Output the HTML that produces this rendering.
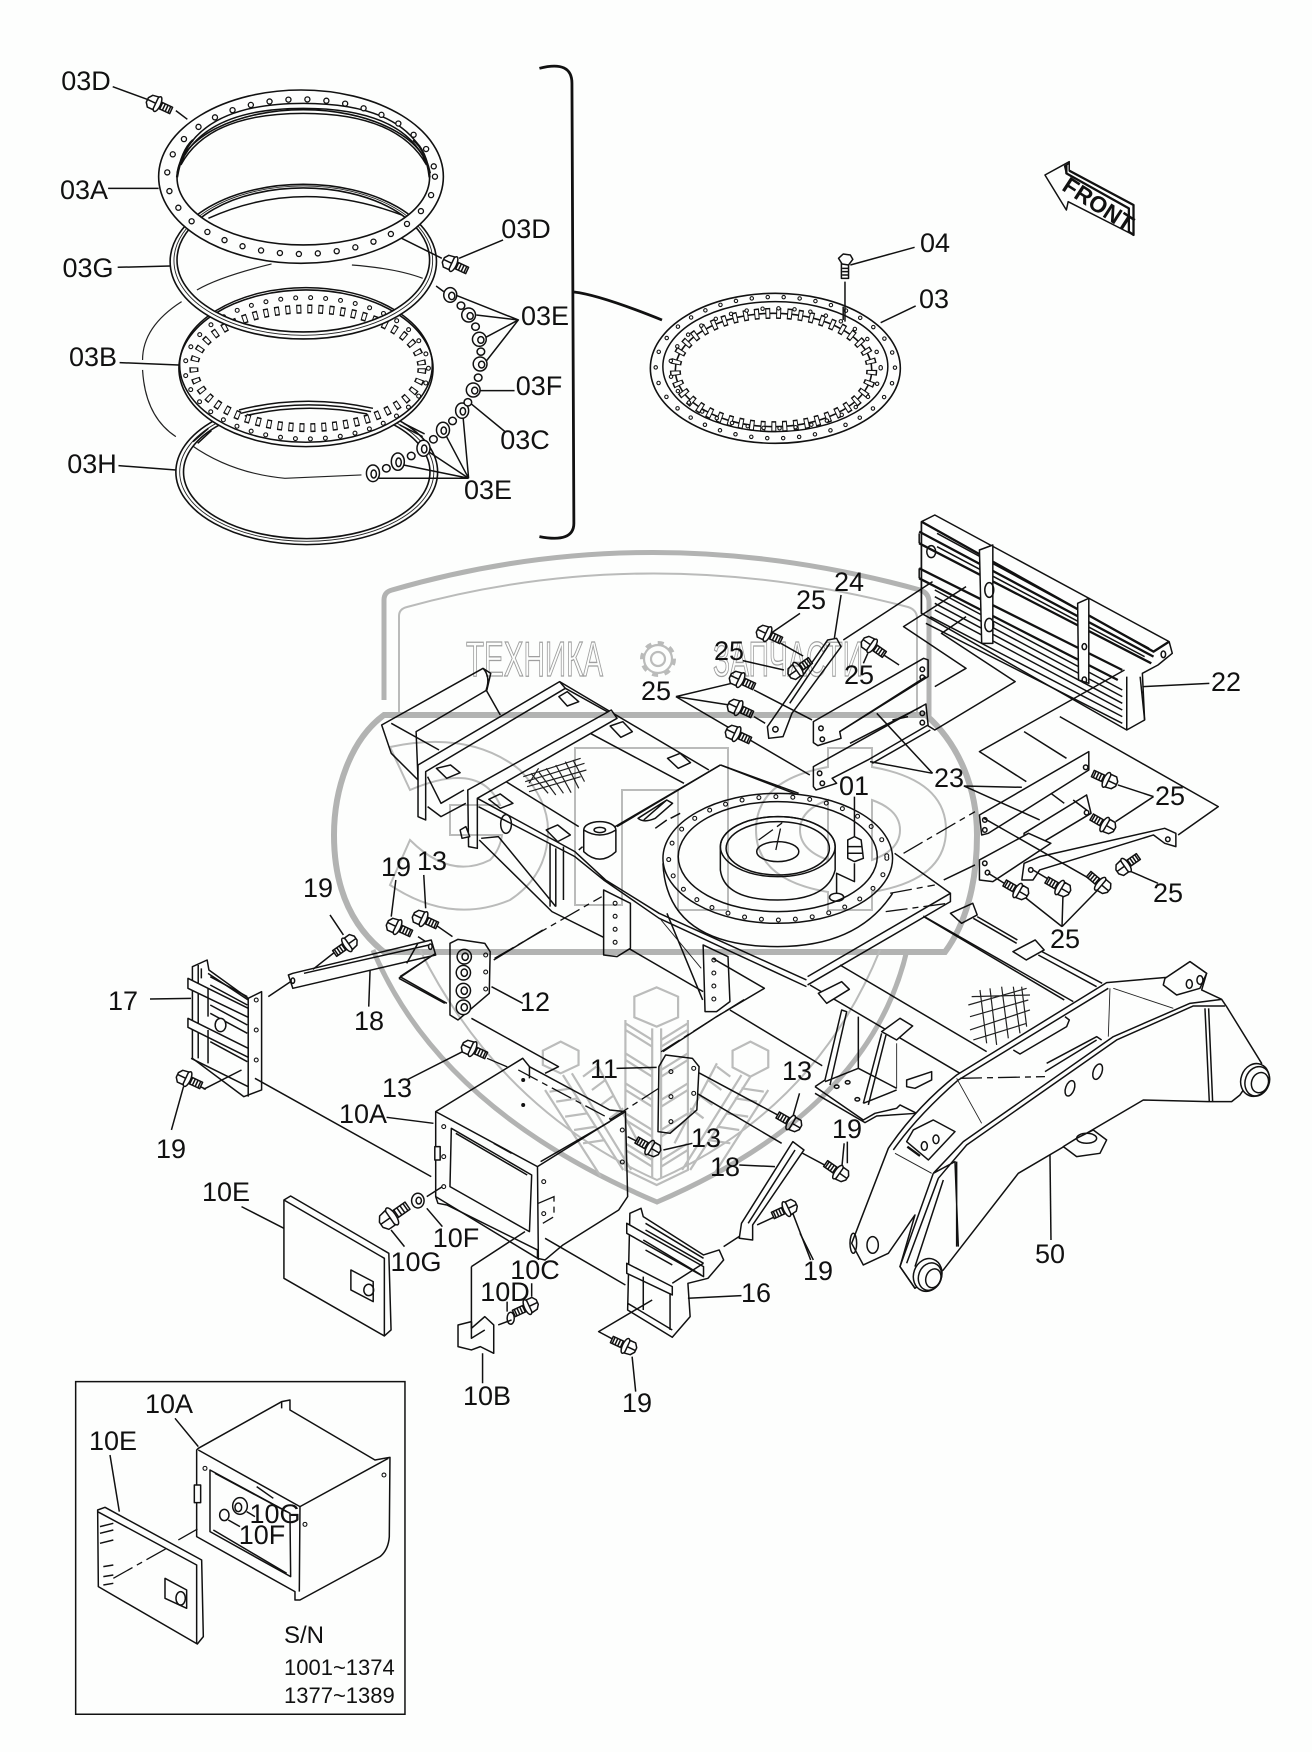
<!DOCTYPE html>
<html><head><meta charset="utf-8"><style>
html,body{margin:0;padding:0;background:#fdfefd}
svg{display:block}
svg *{vector-effect:non-scaling-stroke}
.l{fill:none;stroke:#111;stroke-width:1.5;stroke-linejoin:round}
.n{fill:none;stroke:#222;stroke-width:.9}
.k{fill:none;stroke:#111;stroke-width:2.3;stroke-linejoin:round}
.w{fill:#fdfefd;stroke:#111;stroke-width:1.5;stroke-linejoin:round}
.a{fill:#fdfefd;fill-rule:evenodd;stroke:#111;stroke-width:1.6}
.d{fill:none;stroke:#111;stroke-width:1.3;stroke-dasharray:22 5 6 5}
.h{fill:none;stroke:#111;stroke-width:6.4;stroke-linecap:round;stroke-dasharray:0 17}
.hw{fill:none;stroke:#fdfefd;stroke-width:3.8;stroke-linecap:round;stroke-dasharray:0 17}
.t{fill:none;stroke:#111;stroke-width:9;stroke-dasharray:5 6}
.tw{fill:none;stroke:#fdfefd;stroke-width:6;stroke-dasharray:3 8;stroke-dashoffset:-1}
.wm{fill:none;stroke:#b4b4b4;stroke-width:5}
.wn{fill:none;stroke:#bcbcbc;stroke-width:2}
.wf{fill:none;stroke:#bdbdbd;stroke-width:2.2}
text{font-family:"Liberation Sans",sans-serif;fill:#111;stroke:none}
.lb text{font-size:27px;text-anchor:middle}
</style></head><body>
<svg width="1312" height="1752" viewBox="0 0 1312 1752" xmlns="http://www.w3.org/2000/svg">
<defs>
<g id="bolt"><rect x="5" y="-3.5" width="15" height="7" class="w"/><path class="l" d="M9-3.5V3.5M12-3.5V3.5M15-3.5V3.5M18-3.5V3.5"/><ellipse cx="5" rx="3" ry="8" class="w"/><path class="w" d="M3-7-3-6-6-2-6 3-3 7 3 7 3-7Z"/><path class="l" d="M-6 0H3"/></g>
</defs>
<rect width="1312" height="1752" fill="#fdfefd"/>

<!-- rings exploded -->
<g transform="translate(40,40) scale(.3827,.3333)">
<path class="l" d="M1305 85Q1390 60 1390 130L1395 1450Q1395 1510 1305 1490" style="stroke-width:2.8"/>
<path class="n" style="stroke-width:1.2" d="M605 672Q470 710 410 750M370 785Q268 860 268 960M268 990Q275 1130 355 1190M395 1215Q500 1300 640 1315L840 1305M815 675Q930 685 1000 715"/>
<!-- 03H -->
<path class="a" d="M355 1296a342 218 0 1 0 684 0a342 218 0 1 0 -684 0ZM375 1296a322 200 0 1 0 644 0a322 200 0 1 0 -644 0Z"/>
<ellipse class="n" cx="697" cy="1296" rx="332" ry="208"/>
<!-- 03B -->
<ellipse class="a" cx="695" cy="985" rx="332" ry="235"/>
<ellipse class="l" cx="695" cy="975" rx="330" ry="232"/>
<path class="l" d="M520 1110Q690 1060 870 1105M525 1120Q690 1072 865 1115M535 1128Q690 1085 855 1122"/>
<path class="l" d="M400 1205 440 1165M412 1210 448 1172M940 1155 1000 1190M950 1150 1005 1182"/>
<ellipse class="t" cx="700" cy="985" rx="298" ry="178"/><ellipse class="tw" cx="700" cy="985" rx="298" ry="178"/>
<ellipse class="h" cx="697" cy="985" rx="318" ry="212" style="stroke-dasharray:0 15;stroke-width:5"/><ellipse class="hw" cx="697" cy="985" rx="318" ry="212" style="stroke-dasharray:0 15;stroke-width:2.8"/>
<!-- 03G -->
<path class="a" d="M340 665a348 232 0 1 0 696 0a348 232 0 1 0 -696 0ZM358 660a330 216 0 1 0 660 0a330 216 0 1 0 -660 0Z"/>
<ellipse class="n" cx="688" cy="662" rx="338" ry="224"/>
<path class="l" d="M440 535Q680 410 945 525"/>
<!-- 03A -->
<path class="a" d="M310 410a372 260 0 1 0 744 0a372 260 0 1 0 -744 0ZM358 412a330 203 0 1 0 660 0a330 203 0 1 0 -660 0Z"/>
<path class="l" d="M358 400Q400 190 688 190Q980 190 1020 400M362 385Q420 205 688 205Q960 205 1015 385M368 375Q440 220 688 220Q935 220 1010 375"/>
<path class="k" d="M358 412Q370 330 400 300M1018 412Q1010 330 975 300"/>
<ellipse class="h" cx="682" cy="410" rx="350" ry="232" style="stroke-dasharray:0 19"/><ellipse class="hw" cx="682" cy="410" rx="350" ry="232" style="stroke-dasharray:0 19"/>
<!-- leaders -->
<path class="l" d="M190 140 280 178M355 212 385 238M178 445H310M203 682 340 678M208 968 362 975M205 1277 355 1290M1210 600 1095 655M945 595 1050 655M1035 738 1055 755"/>
<path class="l" d="M1085 765 1250 840 1140 825M1250 840 1160 895M1250 840 1165 965M1240 1052H1150M1215 1175 1125 1090M1120 1315 1105 1125M1120 1315 1060 1185M1120 1315 1015 1235M1120 1315 950 1275M1120 1315H885"/>
<g class="w">
<ellipse cx="1072" cy="765" rx="17" ry="22"/><ellipse cx="1120" cy="825" rx="18" ry="21"/><ellipse cx="1148" cy="898" rx="18" ry="21"/><ellipse cx="1150" cy="972" rx="18" ry="21"/><ellipse cx="1132" cy="1050" rx="18" ry="21"/><ellipse cx="1103" cy="1112" rx="17" ry="23"/><ellipse cx="1053" cy="1170" rx="17" ry="23"/><ellipse cx="1002" cy="1225" rx="17" ry="24"/><ellipse cx="935" cy="1265" rx="17" ry="26"/><ellipse cx="870" cy="1300" rx="17" ry="25"/>
<ellipse cx="1100" cy="797" rx="10" ry="11"/><ellipse cx="1138" cy="860" rx="10" ry="11"/><ellipse cx="1152" cy="935" rx="10" ry="11"/><ellipse cx="1145" cy="1013" rx="10" ry="11"/><ellipse cx="1118" cy="1087" rx="10" ry="11"/><ellipse cx="1078" cy="1143" rx="10" ry="11"/><ellipse cx="1028" cy="1198" rx="10" ry="11"/><ellipse cx="970" cy="1248" rx="10" ry="11"/><ellipse cx="905" cy="1285" rx="10" ry="11"/>
</g>
<g class="l"><ellipse cx="1076" cy="768" rx="8" ry="11"/><ellipse cx="1124" cy="828" rx="8" ry="10"/><ellipse cx="1152" cy="900" rx="8" ry="10"/><ellipse cx="1154" cy="974" rx="8" ry="10"/><ellipse cx="1136" cy="1052" rx="8" ry="10"/><ellipse cx="1105" cy="1114" rx="7" ry="11"/><ellipse cx="1055" cy="1172" rx="7" ry="11"/><ellipse cx="1004" cy="1227" rx="7" ry="12"/><ellipse cx="937" cy="1267" rx="7" ry="13"/><ellipse cx="872" cy="1302" rx="7" ry="12"/></g>
</g>

<!-- assembled ring -->
<g transform="translate(620,140) scale(.3571,.3333)">
<path class="a" d="M85 685a350 225 0 1 0 700 0a350 225 0 1 0 -700 0ZM155 690a275 170 0 1 0 550 0a275 170 0 1 0 -550 0Z"/>
<ellipse class="l" cx="435" cy="680" rx="315" ry="195"/>
<ellipse class="t" cx="430" cy="690" rx="275" ry="170" style="stroke-width:11"/><ellipse class="tw" cx="430" cy="690" rx="275" ry="170" style="stroke-width:8"/>
<ellipse class="h" cx="435" cy="683" rx="335" ry="212" style="stroke-width:4.5;stroke-dasharray:0 16"/><ellipse class="hw" cx="435" cy="683" rx="335" ry="212" style="stroke-width:2.4;stroke-dasharray:0 16"/>
<ellipse class="h" cx="435" cy="685" rx="295" ry="180" style="stroke-width:4.5;stroke-dasharray:0 16"/><ellipse class="hw" cx="435" cy="685" rx="295" ry="180" style="stroke-width:2.4;stroke-dasharray:0 16"/>
<path class="l" d="M630 425V545M645 375 825 322M730 548 828 498"/>
<path class="w" d="M620 370V415H640V370Z"/><path class="w" d="M612 355 625 342 645 345 652 358 640 375 622 372Z"/>
<path class="l" d="M622 385H640M622 395H640M622 405H640"/>
<path class="k" d="M625 500V540" style="stroke-width:1.5"/>
<path class="w" d="M1190 105 1258 65 1258 92 1438 195 1438 285 1255 185 1250 210Z"/>
<path class="k" d="M1258 92 1438 195V285L1425 275V205L1250 100V75"/>
<path class="l" d="M1258 70 1245 78 1250 100"/>
</g>
<text transform="translate(1094,211) rotate(33)" text-anchor="middle" font-size="23" font-weight="bold" style="font-family:'Liberation Sans',sans-serif">FRONT</text>
<path class="k" d="M574 292Q600 295 662 320" style="stroke-width:2.8"/>

<!-- main frame left -->
<g transform="translate(330,640) scale(.3827,.3333)">
<path class="w" d="M135 255 400 85 420 100 410 150 225 275 230 420 160 340Z"/>
<path class="l" d="M160 250 285 330M400 85Q420 110 408 150L445 225"/>
<path class="w" d="M230 375 600 125 615 145 250 395 250 540 230 530Z"/>
<path class="l" d="M600 125 990 390M615 145 740 225M680 280 925 430M255 500 290 530 355 490M255 410 290 490 350 450"/>
<path class="w" d="M360 450 735 210 750 235 385 475 385 625 362 620Z"/>
<path class="l" d="M385 475 640 635 720 720 860 820 1245 1020M460 425 650 560M388 500 640 650 715 720 860 835 1245 1040"/>
<path class="w" d="M340 570 355 560 365 590 345 595Z"/><ellipse class="l" cx="460" cy="552" rx="14" ry="28"/>
<path class="l" d="M390 600 580 815 720 895M395 595 440 590 590 800M780 925 975 1055M1045 1110 1290 1280M575 610V800M610 620V780M590 625V800"/>
<path class="l" d="M1020 375 745 560M1020 375 1235 470M650 630 660 620M820 540 880 480 895 490 850 535Q820 550 805 535L880 480M850 565 880 540M890 535 915 520"/>
<!-- pads -->
<g class="w"><path d="M278 385 315 375 340 398 305 415Z"/><path d="M598 170 620 155 650 185 620 198Z"/><path d="M732 258 765 245 790 275 760 292Z"/><path d="M882 355 915 340 942 368 910 385Z"/><path d="M415 478 445 462 478 490 445 505Z"/><path d="M565 570 595 555 628 585 595 605Z"/></g>
<!-- mesh -->
<path class="n" d="M505 410 655 355M510 425 665 370M515 440 670 390M520 455 655 410M545 395 590 465M565 385 610 460M590 375 630 458M615 365 650 445M635 360 665 425M525 400 570 460M545 385 520 430" style="stroke-width:1.2"/>
<!-- bearing -->
<ellipse class="w" cx="1170" cy="655" rx="300" ry="195"/>
<path class="l" d="M870 670Q880 920 1170 920Q1380 920 1470 760"/>
<ellipse class="h" cx="1170" cy="655" rx="285" ry="185" style="stroke-dasharray:0 17;stroke-width:5"/><ellipse class="hw" cx="1170" cy="655" rx="285" ry="185" style="stroke-dasharray:0 17;stroke-width:2.8"/>
<ellipse class="l" cx="1170" cy="650" rx="260" ry="165"/>
<path class="w" d="M1020 620a150 90 0 0 1 300 0V690Q1300 780 1170 780Q1030 780 1020 690Z"/>
<ellipse class="l" cx="1170" cy="620" rx="150" ry="90"/><ellipse class="l" cx="1170" cy="625" rx="135" ry="80"/><ellipse class="l" cx="1170" cy="635" rx="55" ry="30"/>
<path class="d" d="M1165 630 1180 550 1120 600"/>
<!-- plates -->
<path class="w" d="M715 750V945L750 950 785 925V790Z"/>
<path class="h" d="M745 790V935" style="stroke-width:5;stroke-dasharray:0 13"/><path class="hw" d="M745 790V935" style="stroke-width:2.8;stroke-dasharray:0 13"/>
<path class="w" d="M975 915 980 1115H1010L1045 1085 1040 950Z"/>
<path class="h" d="M1003 960V1100" style="stroke-width:5;stroke-dasharray:0 13"/><path class="hw" d="M1003 960V1100" style="stroke-width:2.8;stroke-dasharray:0 13"/>
<path class="d" d="M430 955 710 770"/>
<path class="l" d="M1000 955 1135 1045 1010 1130M1010 1130 870 1235M180 1015 275 940M180 1015 300 1090"/>
<path class="n" d="M865 840 970 985"/>
<ellipse class="w" cx="705" cy="570" rx="42" ry="25"/>
<path class="w" d="M663 570V635Q705 680 747 635V570Q705 600 663 570Z"/><ellipse class="l" cx="705" cy="570" rx="15" ry="8"/>
<path class="l" d="M750 560 1020 375"/>
<path class="l" d="M245 705 250 805M172 720 160 830M0 825 35 885M270 850 320 890M230 890 250 905"/>
</g>

<!-- main right -->
<g transform="translate(600,500) scale(.4464,.3333)">
<!-- 22 -->
<path class="w" d="M720 65 750 45 1275 425 1282 460 1250 495 1215 520 1220 660 1180 690 720 340Z"/>
<path class="k" d="M720 65 1240 455 1275 425M715 95 1240 470M715 130 1235 490M715 205 1170 510M715 235 1160 540"/>
<path class="l" d="M755 100 1230 445M755 140 1220 470M750 270 1170 570M750 290 1170 590M750 310 1170 610M750 330 1170 630M740 350 1170 650M730 370 1170 670M1180 530V690M1210 530 1220 660M720 65V340"/>
<path class="w" d="M850 150 880 135V430L855 430Z"/><path class="w" d="M1070 310 1095 295V550L1072 540Z"/><path class="l" d="M715 100V130M715 205V235"/>
<ellipse class="l" cx="872" cy="270" rx="10" ry="22"/><ellipse class="l" cx="872" cy="375" rx="10" ry="20"/><ellipse class="l" cx="742" cy="155" rx="10" ry="18"/><ellipse class="l" cx="1262" cy="463" rx="5" ry="10"/><ellipse class="l" cx="1085" cy="440" rx="5" ry="9"/><ellipse class="l" cx="1085" cy="540" rx="5" ry="9"/>
<path class="l" d="M1365 550 1215 560"/>
<path class="l" d="M745 245 545 420M820 260 680 380 820 505 750 560M820 350 765 400 930 545 750 690 720 665M1175 510 850 755 955 845M950 695 1045 775M1030 650 1385 920 1295 1005"/>
<!-- 24 -->
<path class="w" d="M375 680 510 420 530 415 540 440 430 640 410 710 378 715Z"/><path class="l" d="M425 610 515 430"/>
<ellipse class="l" cx="393" cy="688" rx="6" ry="8"/>
<!-- 23 -->
<path class="w" d="M478 665 725 475 735 480 735 530 537 695 540 715 488 737 478 728Z"/><path class="w" d="M478 800 730 612 735 675 600 780 520 835 530 850 484 870 478 860Z"/>
<path class="l" d="M537 695 730 530M560 730 720 620M655 660 690 650M610 790 740 690"/>
<path class="w" d="M850 945 1095 755 1095 810 870 1000 855 1005Z"/><path class="w" d="M950 1000 1090 885 1100 940 950 1060Z"/><path class="w" d="M850 1080 960 1000 1010 1030 880 1145 850 1140Z"/>
<g class="l"><ellipse cx="495" cy="685" rx="5" ry="7"/><ellipse cx="498" cy="718" rx="5" ry="7"/><ellipse cx="492" cy="820" rx="5" ry="7"/><ellipse cx="498" cy="850" rx="5" ry="7"/><ellipse cx="722" cy="508" rx="5" ry="7"/><ellipse cx="722" cy="532" rx="5" ry="7"/><ellipse cx="722" cy="640" rx="5" ry="7"/><ellipse cx="722" cy="668" rx="5" ry="7"/><ellipse cx="862" cy="960" rx="5" ry="7"/><ellipse cx="862" cy="990" rx="5" ry="7"/><ellipse cx="862" cy="1090" rx="5" ry="7"/><ellipse cx="868" cy="1118" rx="5" ry="7"/><ellipse cx="1088" cy="802" rx="5" ry="7"/><ellipse cx="1090" cy="938" rx="5" ry="7"/></g>
<path class="w" d="M945 1140 950 1090 985 1070 1265 985 1290 1000 1290 1040 1265 1030 1240 1005 985 1110 970 1140Z"/>
<ellipse class="l" cx="965" cy="1110" rx="5" ry="7"/><ellipse class="l" cx="1272" cy="1018" rx="5" ry="7"/>
<path class="l" d="M170 590 295 550M170 590 290 615M170 590 470 825M345 570 475 660M345 650 370 670M448 340 385 398M405 430 455 468M320 482 412 510M540 285 525 415M600 460 590 490M630 460 670 495M745 820 605 785M745 820 620 640M815 858 945 862M815 858 985 960M1240 890 1160 855M1240 890 1155 965M1250 1150 1190 1115M1035 1280 950 1190M1035 1280 1037 1190M1035 1280 1115 1170M860 955 1115 1150M870 1120 935 1175M970 1110 1020 1150M1010 880 1040 910M1060 900 1090 930"/>
<!-- 01 -->
<path class="l" d="M570 890V1010M570 1090V1145L530 1120V1180"/>
<path class="w" d="M555 1020 570 1010 585 1020 590 1075 570 1085 555 1075Z"/><path class="l" d="M555 1040H588M555 1060H590"/>
<ellipse class="l" cx="530" cy="1192" rx="16" ry="12"/>
<path class="d" d="M680 1060 840 935M650 1180 750 1155M640 1235 780 1210"/>
<path class="l" d="M660 1060 785 1180 465 1430M770 1140 840 1095M785 1180V1205L465 1455M725 1250 1040 1500M845 1250 935 1320M990 1355 1125 1450"/>
<path class="w" d="M785 1240 835 1210 845 1245 810 1270Z"/><path class="w" d="M925 1355 975 1320 995 1350 955 1380Z"/>
<path class="l" d="M150 1240 230 1500M270 795 445 880"/>
</g>

<!-- boom -->
<g transform="translate(800,900) scale(.3333)">
<!-- deck -->
<path class="l" d="M370 48 820 305M520 55 650 130M715 165 890 260M120 195 560 455M30 255 480 520"/>
<path class="n" style="stroke-width:1.2" d="M505 315 680 265M510 350 685 300M510 390 690 330M520 420 680 370M540 270 560 430M570 265 590 435M605 260 625 415M640 260 660 400M665 260 680 380M515 290 690 285"/>
<path d="M45 560 125 330 290 425 350 640 300 615 290 625 225 640 190 660Z" fill="#fdfefd"/>
<path class="l" d="M45 560 75 540 125 330 140 335 90 555M45 560 190 660 225 640 290 625 300 615 350 640M45 580 195 668 230 648 350 640M190 610 245 400M205 615 258 405M190 610 290 570M175 505 290 565M75 545 175 505M175 505V350"/>
<path class="n" d="M290 430V565"/>
<g class="l"><ellipse cx="110" cy="560" rx="7" ry="5"/><ellipse cx="143" cy="547" rx="7" ry="5"/><ellipse cx="172" cy="598" rx="7" ry="5"/></g>
<path class="w" d="M320 540 395 515 395 540 345 565 320 560Z"/>
<path class="w" d="M55 280 125 245 148 268 80 310Z"/><path class="w" d="M245 395 300 355 338 378 290 420Z"/>
<!-- boom body -->
<path class="w" d="M265 745Q350 620 470 525L920 248 1100 232 1170 185 1220 220 1205 270 1265 298 1280 320 1385 490 1320 585 1295 605H1225L1030 600 655 820 430 1110 345 1165 300 1100 345 945 265 1060 190 1095 155 1030Z"/>
<path class="l" d="M280 750Q350 650 475 540L925 265M400 820 490 725 940 410 1170 310 1265 298M415 835 500 735 950 420 1180 318 1275 318M400 820 465 785 475 1040M1215 325 1228 605M1226 325 1238 605M400 820 300 1100 345 1165M415 835 320 1090M430 840 345 1100M470 785V1040"/>
<path class="n" d="M285 760 395 820M470 535 545 670M930 265 925 410M940 265 1120 325"/>
<path class="d" d="M480 535 735 530"/>
<path class="l" d="M640 450 660 462 800 380 808 360 795 350M740 490 890 410 905 420M735 515 890 420"/>
<ellipse class="l" cx="810" cy="565" rx="13" ry="24" transform="rotate(20 810 565)"/><ellipse class="l" cx="893" cy="515" rx="13" ry="24" transform="rotate(20 893 515)"/>
<path class="w" d="M790 740 830 770 900 760 920 720 880 690 830 715Z"/><ellipse class="l" cx="860" cy="715" rx="30" ry="15"/>
<path class="l" d="M750 765 753 1020"/>
<path class="w" d="M320 725 340 690 400 660 465 695 385 780Z"/><ellipse class="l" cx="373" cy="738" rx="9" ry="13"/><ellipse class="l" cx="408" cy="718" rx="9" ry="13"/><path class="k" d="M322 740 360 768"/>
<path class="w" d="M1095 235 1170 185 1220 220 1200 265 1130 285 1090 255Z"/><ellipse class="l" cx="1168" cy="252" rx="9" ry="13"/><ellipse class="l" cx="1200" cy="240" rx="9" ry="13"/>
<ellipse class="l" cx="218" cy="1035" rx="17" ry="25"/><ellipse class="l" cx="160" cy="1030" rx="10" ry="30"/>
<ellipse class="w" cx="1365" cy="540" rx="42" ry="50" transform="rotate(20 1365 540)"/><ellipse class="l" cx="1380" cy="548" rx="25" ry="31" transform="rotate(20 1380 548)"/><ellipse class="l" cx="1372" cy="544" rx="36" ry="45" transform="rotate(20 1372 544)"/>
<ellipse class="w" cx="383" cy="1125" rx="42" ry="50" transform="rotate(20 383 1125)"/><ellipse class="l" cx="400" cy="1135" rx="22" ry="29" transform="rotate(20 400 1135)"/><ellipse class="l" cx="390" cy="1130" rx="34" ry="42" transform="rotate(20 390 1130)"/>
<path class="l" d="M0 1000 40 1080M142 725V790"/>
</g>

<!-- lower left -->
<g transform="translate(150,930) scale(.4464,.3333)">
<!-- 17 -->
<path class="w" d="M95 110 128 90 132 120 220 205 250 185V480L210 500 95 385Z"/>
<path class="l" d="M108 105V385M135 140 218 200M135 165 218 225M135 225 218 285M135 250 218 310M135 310 218 370M135 335 218 395"/>
<path class="w" d="M85 145 220 235V262L85 175Z"/><path class="w" d="M85 265 220 355V382L85 292Z"/>
<path class="l" d="M92 385 220 470M115 115V145M130 130 220 210M130 175V260M130 300V400M220 205V500"/>
<path class="h" d="M238 210V450" style="stroke-width:5;stroke-dasharray:0 30"/><path class="hw" d="M238 210V450" style="stroke-width:2.8;stroke-dasharray:0 30"/>
<ellipse class="w" cx="158" cy="285" rx="12" ry="20"/>
<path class="l" d="M0 207 92 205M120 478 205 420M235 445 630 740M265 200 315 155M125 478 105 465M75 470 48 600"/>
<!-- 18 -->
<path class="w" d="M310 135 320 130 630 30 640 75 320 175Z"/><path class="l" d="M345 130 625 45M493 120 490 230M575 100 600 40M365 118 420 60M560 140 640 70M560 140 665 220"/>
<ellipse class="l" cx="320" cy="152" rx="4" ry="8"/><ellipse class="l" cx="628" cy="50" rx="4" ry="8"/>
<!-- 12 -->
<path class="w" d="M672 40 690 28 750 40 762 65 760 190 690 270 672 255Z"/>
<g class="w"><ellipse cx="704" cy="80" rx="16" ry="22"/><ellipse cx="702" cy="128" rx="16" ry="22"/><ellipse cx="702" cy="182" rx="16" ry="22"/><ellipse cx="702" cy="232" rx="16" ry="22"/></g>
<g class="l"><ellipse cx="706" cy="80" rx="7" ry="11"/><ellipse cx="704" cy="128" rx="7" ry="11"/><ellipse cx="704" cy="182" rx="7" ry="11"/><ellipse cx="704" cy="232" rx="7" ry="11"/></g>
<path class="h" d="M752 75V210" style="stroke-width:5;stroke-dasharray:0 17"/><path class="hw" d="M752 75V210" style="stroke-width:2.8;stroke-dasharray:0 17"/>
<path class="l" d="M770 90 880 0M765 170 835 220M720 265 915 410 885 430M575 450 700 365"/>
<path class="d" d="M755 385 870 450"/>
<!-- box -->
<path class="w" d="M640 545 835 385 850 410 1030 540 1065 545 1070 800 1050 840 925 945 885 990 868 985V960L665 825 645 820 640 800Z"/>
<path class="l" d="M640 545 868 710 1065 545M868 710 870 990M850 410V445M640 800 868 985"/>
<path class="l" d="M675 595 855 735 850 905 672 770Z"/><path class="l" d="M685 610 845 735M770 640 810 670"/>
<path class="w" d="M638 650H650V690H638Z"/>
<path class="h" d="M658 590V775" style="stroke-width:5;stroke-dasharray:0 30"/><path class="hw" d="M658 590V775" style="stroke-width:2.8;stroke-dasharray:0 30"/>
<path class="h" d="M882 755V930" style="stroke-width:5;stroke-dasharray:0 32"/><path class="hw" d="M882 755V930" style="stroke-width:2.8;stroke-dasharray:0 32"/>
<path class="h" d="M1058 600V760" style="stroke-width:5;stroke-dasharray:0 32"/><path class="hw" d="M1058 600V760" style="stroke-width:2.8;stroke-dasharray:0 32"/>
<path class="h" d="M836 450V600" style="stroke-width:4;stroke-dasharray:0 25"/>
<path class="d" d="M870 820 905 800V860L880 880"/>
<path class="l" d="M530 562 635 580M1045 415 1135 412M1320 705 1400 710M1285 950 1325 915M1360 885 1400 860M1225 425 1420 565M1225 490 1415 640M1455 665 1525 715"/>
<path class="d" d="M825 420 1035 570M1030 570 1180 440M1145 365 1335 205"/>
<path class="l" d="M875 695 1030 575M1070 620 1100 640"/>
<!-- 11 -->
<path class="w" d="M1140 410 1155 375 1215 385 1230 410 1225 540 1165 610 1138 605Z"/>
<path class="h" d="M1218 415V555" style="stroke-width:5;stroke-dasharray:0 25"/><path class="hw" d="M1218 415V555" style="stroke-width:2.8;stroke-dasharray:0 25"/>
<path class="h" d="M1167 425V580" style="stroke-width:5;stroke-dasharray:0 25"/><path class="hw" d="M1167 425V580" style="stroke-width:2.8;stroke-dasharray:0 25"/>
<!-- 18 r -->
<path class="w" d="M1325 880 1440 635 1465 660 1350 885 1350 930 1320 925Z"/>
<path class="l" d="M1340 880 1445 660"/>
<!-- cover -->
<path class="w" d="M300 810 315 798 535 970 540 1200 525 1218 300 1045Z"/>
<path class="l" d="M300 810 525 985V1218"/>
<path class="l" d="M450 1020 500 1055V1115L450 1080Z"/><ellipse class="l" cx="490" cy="1080" rx="11" ry="17"/>
<path class="l" d="M205 830 300 895M620 835 655 890M620 800 655 770M540 900 570 950M885 925 1065 1065M720 1010 840 905M720 1010V1220M745 1270V1360M810 1170 780 1185M800 1115V1145M855 1060V1100"/>
<ellipse class="w" cx="600" cy="812" rx="14" ry="22"/><ellipse class="l" cx="602" cy="812" rx="6" ry="10"/>
<!-- 10B -->
<path class="w" d="M720 1195 750 1160 770 1185 770 1270 740 1250 720 1260 690 1250 690 1185 720 1175Z"/><path class="l" d="M720 1175V1225L750 1200"/>
<ellipse class="l" cx="808" cy="1165" rx="8" ry="18"/>
<!-- 16 -->
<path class="w" d="M1075 850 1100 835 1105 860 1240 975 1275 960 1285 990 1250 1045 1205 1060 1210 1160 1170 1222 1070 1140Z"/>
<path class="l" d="M1110 900 1240 1000M1110 960 1170 1005"/>
<path class="w" d="M1068 880 1240 1010V1040L1068 910Z"/><path class="w" d="M1068 1000 1170 1070V1095L1068 1030Z"/>
<path class="l" d="M1110 880 1240 985M1105 930 1235 1035M1105 1040V1140M1165 1090V1200M1070 1120 1170 1200M1240 1000 1170 1060M1205 1105 1325 1097"/>
<path class="l" d="M1125 1110 1005 1205 1040 1230M1080 1280 1088 1385M1440 850 1480 990M1555 640 1550 710M1150 660 1215 640M1440 560 1455 490"/>
</g>

<!-- inset -->
<g transform="translate(60,1370) scale(.3333)">
<rect x="47" y="35" width="988" height="998" fill="none" stroke="#111" style="stroke-width:1.5"/>
<path class="w" d="M415 235 665 95 690 90 690 120 945 270 990 262 988 500Q985 540 960 560L720 690H705V665L410 500V240Z"/>
<path class="l" d="M415 240 720 410 985 265M720 410 718 665M665 95V115M450 300 690 430 692 620 450 485Z"/>
<path class="l" d="M465 310 680 425M590 350 640 385M460 480 680 610"/>
<path class="w" d="M403 345H422V398H403Z"/>
<path class="h" d="M435 295V465" style="stroke-width:5;stroke-dasharray:0 57"/><path class="hw" d="M435 295V465" style="stroke-width:2.8;stroke-dasharray:0 57"/>
<path class="h" d="M972 315V465" style="stroke-width:5;stroke-dasharray:0 50"/><path class="hw" d="M972 315V465" style="stroke-width:2.8;stroke-dasharray:0 50"/>
<path class="h" d="M735 463V630" style="stroke-width:5;stroke-dasharray:0 84"/><path class="hw" d="M735 463V630" style="stroke-width:2.8;stroke-dasharray:0 84"/>
<path class="w" d="M113 420 135 412 425 570 430 800 412 822 115 650Z"/>
<path class="l" d="M113 425 410 585V820"/>
<path class="l" d="M315 625 380 660V715L315 685Z"/><ellipse class="l" cx="362" cy="685" rx="14" ry="20"/>
<path class="l" d="M120 470 160 460M120 490 160 480M120 520 160 510M130 590 160 585M130 620 160 615M130 645 160 640"/>
<path class="d" d="M160 625 320 535M355 510 425 470"/>
<path class="l" d="M345 145 415 230M150 255 178 425"/>
<ellipse class="w" cx="540" cy="408" rx="22" ry="25"/><ellipse class="l" cx="535" cy="412" rx="10" ry="13"/><path class="l" d="M560 425 585 440"/>
<ellipse class="l" cx="493" cy="435" rx="14" ry="17"/><path class="l" d="M505 450 540 470"/>
</g>

<!-- bolts -->
<g>
<use href="#bolt" transform="translate(153,102) rotate(25)"/>
<use href="#bolt" transform="translate(449,262) rotate(25)"/>
<use href="#bolt" transform="translate(763,632) rotate(25)"/>
<use href="#bolt" transform="translate(794,672) rotate(-35)"/>
<use href="#bolt" transform="translate(736,678) rotate(25)"/>
<use href="#bolt" transform="translate(734,706) rotate(25)"/>
<use href="#bolt" transform="translate(732,732) rotate(25)"/>
<use href="#bolt" transform="translate(868,643) rotate(35)"/>
<use href="#bolt" transform="translate(1111,782) rotate(205)"/>
<use href="#bolt" transform="translate(1109,827) rotate(210)"/>
<use href="#bolt" transform="translate(1122,868) rotate(-35)"/>
<use href="#bolt" transform="translate(1064,890) rotate(210)"/>
<use href="#bolt" transform="translate(1104,887) rotate(220)"/>
<use href="#bolt" transform="translate(1022,893) rotate(210)"/>
<use href="#bolt" transform="translate(393,925) rotate(25)"/>
<use href="#bolt" transform="translate(419,917) rotate(25)"/>
<use href="#bolt" transform="translate(351,942) rotate(145)"/>
<use href="#bolt" transform="translate(468,1047) rotate(25)"/>
<use href="#bolt" transform="translate(183,1077) rotate(25)"/>
<use href="#bolt" transform="translate(654,1150) rotate(210)"/>
<use href="#bolt" transform="translate(795,1125) rotate(210)"/>
<use href="#bolt" transform="translate(842,1175) rotate(215)"/>
<use href="#bolt" transform="translate(791,1207) rotate(155)"/>
<use href="#bolt" transform="translate(387,1220) rotate(-35) scale(1.25)"/>
<use href="#bolt" transform="translate(532,1305) rotate(155)"/>
<use href="#bolt" transform="translate(630,1348) rotate(205)"/>
</g>

<!-- labels -->
<g class="lb">
<text x="86" y="90">03D</text><text x="84" y="199">03A</text><text x="88" y="277">03G</text><text x="93" y="366">03B</text><text x="92" y="473">03H</text><text x="526" y="238">03D</text><text x="545" y="325">03E</text><text x="539" y="395">03F</text><text x="525" y="449">03C</text><text x="488" y="499">03E</text>
<text x="935" y="252">04</text><text x="934" y="308">03</text><text x="1226" y="691">22</text><text x="849" y="591">24</text><text x="811" y="609">25</text><text x="729" y="660">25</text><text x="859" y="684">25</text><text x="656" y="700">25</text><text x="949" y="787">23</text><text x="854" y="795">01</text><text x="1170" y="805">25</text><text x="1168" y="902">25</text><text x="1065" y="948">25</text>
<text x="396" y="876">19</text><text x="432" y="870">13</text><text x="369" y="1030">18</text><text x="535" y="1011">12</text><text x="318" y="897">19</text><text x="123" y="1010">17</text><text x="171" y="1158">19</text><text x="397" y="1097">13</text><text x="604" y="1078">11</text><text x="797" y="1080">13</text><text x="706" y="1147">13</text><text x="847" y="1138">19</text><text x="725" y="1176">18</text><text x="363" y="1123">10A</text><text x="226" y="1201">10E</text><text x="416" y="1271">10G</text><text x="456" y="1247">10F</text><text x="535" y="1279">10C</text><text x="505" y="1301">10D</text><text x="487" y="1405">10B</text><text x="756" y="1302">16</text><text x="818" y="1280">19</text><text x="637" y="1412">19</text><text x="1050" y="1263">50</text>
<text x="169" y="1413">10A</text><text x="113" y="1450">10E</text><text x="275" y="1523">10G</text><text x="262" y="1544">10F</text>
</g>
<text x="284" y="1643" font-size="24">S/N</text>
<text x="284" y="1675" font-size="22">1001~1374</text>
<text x="284" y="1703" font-size="22">1377~1389</text>

<!-- watermark -->
<g style="mix-blend-mode:multiply">
<path class="wm" d="M384 700V600Q384 592 392 590Q650 515 920 590Q929 593 929 602V716"/>
<path class="wn" d="M399 715V616Q399 609 407 607Q650 540 908 607Q917 610 917 618V716"/>
<path class="wm" d="M384 715H926C960 745 977 790 977 835C977 885 965 925 945 952H384C350 925 334 885 334 835C334 790 350 740 384 715Z" style="stroke-width:6"/>
<path class="wn" d="M420 950Q500 1110 657 1180Q815 1110 880 950"/>
<path class="wm" d="M373 950Q440 1110 657 1202Q870 1110 907 950"/>
<path class="wn" d="M390 747Q470 730 520 770Q548 800 548 830Q548 875 510 900Q450 925 390 885L410 840Q450 880 490 860Q500 850 502 835H450V805H500Q480 760 410 790Z"/>
<path class="wn" d="M575 748H728V910H678V790H622V905H575Z"/>
<path class="wn" d="M828 748H872V767Q946 780 946 830Q946 880 872 892V910H828V892Q756 880 756 830Q756 780 828 767Z"/>
<path class="wn" d="M828 800Q800 810 800 830Q800 850 828 860ZM872 800Q900 810 900 830Q900 850 872 860Z"/>
<g transform="translate(150,930) scale(.4464,.3333)">
<path class="wf" d="M1135 172 1183 200V262L1135 290 1085 262V200Z"/>
<path class="wf" d="M920 335 960 362V405L920 430 880 405V362Z"/>
<path class="wf" d="M1345 335 1385 362V412L1345 440 1305 412V362Z"/>
<path class="wf" d="M1125 295V745M1145 295V745M1065 270V720L1135 765 1205 720V270"/>
<path class="wf" d="M1065 280 1125 330M1065 300 1125 350M1065 370 1125 420M1065 390 1125 440M1065 460 1125 510M1065 480 1125 530M1065 550 1125 600M1065 570 1125 620M1065 640 1125 690M1065 660 1125 710M1205 280 1145 330M1205 300 1145 350M1205 370 1145 420M1205 390 1145 440M1205 460 1145 510M1205 480 1145 530M1205 550 1145 600M1205 570 1145 620M1205 640 1145 690M1205 660 1145 710"/>
<path class="wf" d="M925 435 1060 720M945 430 1078 720M885 480 1010 740M1000 400 1095 640M895 485 945 475M910 515 960 505M930 560 980 550M950 600 1000 590M970 640 1020 630M970 440 1000 410M990 480 1020 450M1010 525 1040 495M1030 565 1060 535"/>
<path class="wf" d="M1345 440 1210 720M1325 435 1192 720M1385 480 1260 740M1270 400 1175 640M1375 485 1325 475M1360 515 1310 505M1340 560 1290 550M1320 600 1270 590M1300 640 1250 630M1300 440 1270 410M1280 480 1250 450M1260 525 1230 495M1240 565 1210 535"/>
</g>
<text x="466" y="676" font-size="49" textLength="137" lengthAdjust="spacingAndGlyphs" style="fill:none;stroke:#a0a0a0;stroke-width:1.3">ТЕХНИКА</text>
<text x="713" y="676" font-size="49" textLength="150" lengthAdjust="spacingAndGlyphs" style="fill:none;stroke:#a0a0a0;stroke-width:1.3">ЗАПЧАСТИ</text>
<circle cx="658" cy="659" r="7" class="wf"/><circle cx="658" cy="659" r="14" class="wf"/><circle cx="658" cy="659" r="16" fill="none" stroke="#bcbcbc" stroke-width="4" stroke-dasharray="6 6.5"/>
</g>
</svg>
</body></html>
